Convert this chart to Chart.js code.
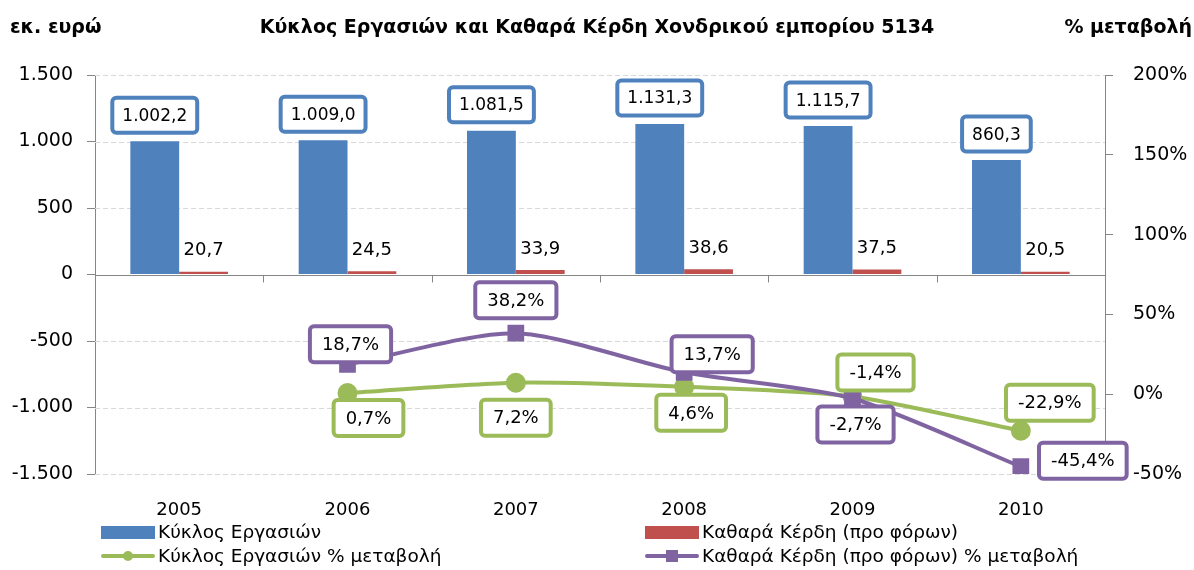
<!DOCTYPE html>
<html>
<head>
<meta charset="utf-8">
<script src="https://cdn.jsdelivr.net/npm/chart.js@4/dist/chart.umd.min.js"></script>
<style>
  body { margin: 0; background: #fff; }
  #chart { display: block; }
</style>
</head>
<body>
<canvas id="chart" width="1194" height="570"></canvas>
<script>
const years = ['2005', '2006', '2007', '2008', '2009', '2010'];
const turnover = [1002.2, 1009.0, 1081.5, 1131.3, 1115.7, 860.3];
const profits = [20.7, 24.5, 33.9, 38.6, 37.5, 20.5];
const turnoverChange = [null, 0.7, 7.2, 4.6, -1.4, -22.9];
const profitsChange = [null, 18.7, 38.2, 13.7, -2.7, -45.4];
const leftTicks = [-1500, -1000, -500, 0, 500, 1000, 1500];
const rightTicks = [-50, 0, 50, 100, 150, 200];

const blue = '#4F81BD';
const red = '#C0504D';
const green = '#9BBB59';
const purple = '#8064A2';
const axisGrey = '#868686';
const font = '"DejaVu Sans", Verdana, sans-serif';

// where each % label sits relative to its point (dx, dy)
const greenOffsets = [null, [21, 25], [0, 35], [7, 26], [23, -24], [29, -28]];
const purpleOffsets = [null, [3, -20], [0, -33], [28, -18], [3, 26], [62, -6]];

// greek number format: 1.002,2
function grNum(v, d) {
  let s = Math.abs(v).toFixed(d);
  let [i, f] = s.split('.');
  i = i.replace(/\B(?=(\d{3})+(?!\d))/g, '.');
  return (v < 0 ? '-' : '') + i + (f ? ',' + f : '');
}

function roundRect(ctx, x, y, w, h, r) {
  ctx.beginPath();
  ctx.moveTo(x + r, y);
  ctx.arcTo(x + w, y, x + w, y + h, r);
  ctx.arcTo(x + w, y + h, x, y + h, r);
  ctx.arcTo(x, y + h, x, y, r);
  ctx.arcTo(x, y, x + w, y, r);
  ctx.closePath();
}

function boxLabel(ctx, text, cx, cy, color, size, padX, h) {
  ctx.font = size + 'px ' + font;
  const w = ctx.measureText(text).width + padX * 2;
  roundRect(ctx, cx - w / 2, cy - h / 2, w, h, 4);
  ctx.fillStyle = '#fff';
  ctx.fill();
  ctx.lineWidth = 4;
  ctx.strokeStyle = color;
  ctx.stroke();
  ctx.fillStyle = '#000';
  ctx.textAlign = 'center';
  ctx.textBaseline = 'middle';
  ctx.fillText(text, cx, cy + 1);
}

function line(ctx, x1, y1, x2, y2) {
  ctx.beginPath();
  ctx.moveTo(x1, y1);
  ctx.lineTo(x2, y2);
  ctx.stroke();
}

const decor = {
  id: 'decor',
  beforeDatasetsDraw(chart) {
    const { ctx, chartArea: a, scales: { x, y } } = chart;
    ctx.save();
    ctx.lineWidth = 1;
    ctx.strokeStyle = '#D9D9D9';
    ctx.setLineDash([5, 3]);
    leftTicks.forEach(v => {
      if (v === 0) return;
      const py = Math.round(y.getPixelForValue(v)) + 0.5;
      line(ctx, a.left, py, a.right, py);
    });
    ctx.setLineDash([]);
    ctx.strokeStyle = axisGrey;
    const zy = Math.round(y.getPixelForValue(0)) + 0.5;
    line(ctx, a.left, zy, a.right, zy);
    for (let i = 0; i <= years.length; i++) {
      const px = Math.round(x.left + i * x.width / years.length) + 0.5;
      line(ctx, px, zy, px, zy + 7);
    }
    ctx.restore();
  },
  afterDatasetsDraw(chart) {
    const { ctx } = chart;
    ctx.save();
    const barsA = chart.getDatasetMeta(0).data;
    const barsB = chart.getDatasetMeta(1).data;
    turnover.forEach((v, i) => {
      boxLabel(ctx, grNum(v, 1), barsA[i].x, barsA[i].y - 26, blue, 17, 10, 35);
    });
    ctx.font = '18px ' + font;
    ctx.fillStyle = '#000';
    ctx.textAlign = 'center';
    ctx.textBaseline = 'middle';
    profits.forEach((v, i) => {
      ctx.fillText(grNum(v, 1), barsB[i].x, barsB[i].y - 21);
    });
    const ptsG = chart.getDatasetMeta(2).data;
    const ptsP = chart.getDatasetMeta(3).data;
    profitsChange.forEach((v, i) => {
      if (v === null) return;
      const o = purpleOffsets[i];
      boxLabel(ctx, grNum(v, 1) + '%', ptsP[i].x + o[0], ptsP[i].y + o[1], purple, 18, 12, 36);
    });
    turnoverChange.forEach((v, i) => {
      if (v === null) return;
      const o = greenOffsets[i];
      boxLabel(ctx, grNum(v, 1) + '%', ptsG[i].x + o[0], ptsG[i].y + o[1], green, 18, 12, 36);
    });
    ctx.restore();
  },
  afterDraw(chart) {
    const { ctx } = chart;
    ctx.save();
    ctx.fillStyle = '#000';
    ctx.textBaseline = 'middle';
    ctx.font = 'bold 19px ' + font;
    ctx.textAlign = 'left';
    ctx.fillText('εκ. ευρώ', 10, 28);
    ctx.textAlign = 'center';
    ctx.fillText('Κύκλος Εργασιών και Καθαρά Κέρδη Χονδρικού εμπορίου 5134', 597, 28);
    ctx.textAlign = 'right';
    ctx.fillText('% μεταβολή', 1192, 28);

    // legend, two columns
    const items = [
      { label: 'Κύκλος Εργασιών', color: blue, kind: 'bar', x: 101, y: 532 },
      { label: 'Καθαρά Κέρδη (προ φόρων)', color: red, kind: 'bar', x: 645, y: 532 },
      { label: 'Κύκλος Εργασιών % μεταβολή', color: green, kind: 'circle', x: 101, y: 556 },
      { label: 'Καθαρά Κέρδη (προ φόρων) % μεταβολή', color: purple, kind: 'rect', x: 645, y: 556 }
    ];
    ctx.font = '18.5px ' + font;
    ctx.textAlign = 'left';
    items.forEach(it => {
      ctx.fillStyle = it.color;
      ctx.strokeStyle = it.color;
      if (it.kind === 'bar') {
        ctx.fillRect(it.x, it.y - 6, 54, 13);
      } else {
        ctx.lineWidth = 4;
        ctx.lineCap = 'round';
        line(ctx, it.x + 2, it.y, it.x + 52, it.y);
        if (it.kind === 'circle') {
          ctx.beginPath();
          ctx.arc(it.x + 27, it.y, 5, 0, Math.PI * 2);
          ctx.fill();
        } else {
          ctx.fillRect(it.x + 21, it.y - 6, 12, 12);
        }
      }
      ctx.fillStyle = '#000';
      ctx.fillText(it.label, it.x + 57, it.y + 1);
    });
    ctx.restore();
  }
};

new Chart(document.getElementById('chart'), {
  type: 'bar',
  data: {
    labels: years,
    datasets: [
      {
        label: 'Κύκλος Εργασιών',
        data: turnover,
        backgroundColor: blue,
        yAxisID: 'y',
        order: 2,
        categoryPercentage: 0.58,
        barPercentage: 1.0
      },
      {
        label: 'Καθαρά Κέρδη (προ φόρων)',
        data: profits,
        backgroundColor: red,
        yAxisID: 'y',
        order: 2,
        categoryPercentage: 0.58,
        barPercentage: 1.0
      },
      {
        type: 'line',
        label: 'Κύκλος Εργασιών % μεταβολή',
        data: turnoverChange,
        borderColor: green,
        backgroundColor: green,
        borderWidth: 4,
        pointStyle: 'circle',
        pointRadius: 8,
        tension: 0.25,
        yAxisID: 'y1',
        order: 1
      },
      {
        type: 'line',
        label: 'Καθαρά Κέρδη (προ φόρων) % μεταβολή',
        data: profitsChange,
        borderColor: purple,
        backgroundColor: purple,
        borderWidth: 4,
        pointStyle: 'rect',
        pointRadius: 9,
        tension: 0.25,
        yAxisID: 'y1',
        order: 0
      }
    ]
  },
  options: {
    responsive: false,
    animation: false,
    layout: { padding: { top: 75, left: 0, right: 0, bottom: 0 } },
    plugins: {
      legend: { display: false },
      tooltip: { enabled: false }
    },
    scales: {
      x: {
        grid: { display: false, drawTicks: false },
        border: { display: false },
        ticks: { color: '#000', font: { family: font, size: 18 }, padding: 26 },
        afterFit: s => { s.height = 96; }
      },
      y: {
        position: 'left',
        min: -1500,
        max: 1500,
        afterBuildTicks: s => { s.ticks = leftTicks.map(v => ({ value: v })); },
        grid: { drawOnChartArea: false, drawTicks: true, tickLength: 8, color: axisGrey },
        border: { color: axisGrey },
        ticks: { color: '#000', font: { family: font, size: 19 }, padding: 14, callback: v => grNum(v, 0) },
        afterFit: s => { s.width = 95; }
      },
      y1: {
        position: 'right',
        min: -50,
        max: 200,
        afterBuildTicks: s => { s.ticks = rightTicks.map(v => ({ value: v })); },
        grid: { drawOnChartArea: false, drawTicks: true, tickLength: 8, color: axisGrey },
        border: { color: axisGrey },
        ticks: { color: '#000', font: { family: font, size: 19 }, padding: 20, callback: v => v + '%' },
        afterFit: s => { s.width = 89; }
      }
    }
  },
  plugins: [decor]
});
</script>
</body>
</html>
